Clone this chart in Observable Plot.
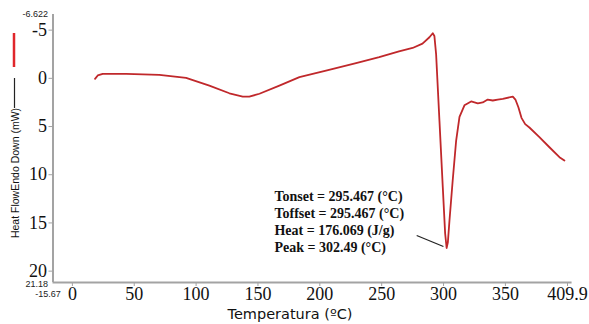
<!DOCTYPE html>
<html>
<head>
<meta charset="utf-8">
<script src="https://cdn.jsdelivr.net/npm/d3@7"></script>
<script src="https://cdn.jsdelivr.net/npm/@observablehq/plot@0.6"></script>
<style>
  html, body { margin: 0; padding: 0; background: #fff; }
  #chart svg { display: block; }
</style>
</head>
<body>
<div id="chart"></div>
<script>
// Temperature (°C) and heat flow (mW)
const temps = [18.3, 20.5, 24.5, 43.4, 70.3, 91.9, 110.7, 126.9, 137.7, 143, 151.2, 167.3, 183.5, 205, 229.3, 248, 264, 275, 283, 288.6, 291.3, 292.6, 294, 296.7, 299.4, 301.3, 302.5, 303.5, 304.8, 307.4, 310.2, 312.9, 316.9, 322.3, 327.7, 331.7, 335.7, 339.8, 343.8, 347.9, 356, 358.1, 360.5, 363, 366, 369.4, 377.5, 385.6, 393.7, 397.7];
const heat = [0.05, -0.3, -0.47, -0.47, -0.36, -0.05, 0.75, 1.55, 1.89, 1.9, 1.6, 0.75, -0.12, -0.8, -1.57, -2.2, -2.8, -3.15, -3.6, -4.26, -4.68, -4.4, -2.5, 4.4, 11.3, 16.1, 17.6, 17.0, 14.75, 10.6, 6.45, 4.0, 2.8, 2.4, 2.6, 2.5, 2.2, 2.3, 2.2, 2.13, 1.89, 2.2, 3.0, 4.1, 4.75, 5.1, 6.1, 7.15, 8.18, 8.53];

const xTicks = [0, 50, 100, 150, 200, 250, 300, 350];
const xEndTick = [409.9];
const yTicks = [-5, 0, 5, 10, 15, 20];
const xMin = -15.67, xMax = 409.9;
const yMin = -6.622, yMax = 21.18;

// Annotation: leader line endpoints and text
const leaderX = [278.3, 299.9];
const leaderY = [16.3, 17.45];
const noteX = 163.3, noteY = 14.8;
const noteLines = ["Tonset = 295.467 (°C)", "Toffset = 295.467 (°C)", "Heat = 176.069 (J/g)", "Peak = 302.49 (°C)"];

const yLabel = "Heat FlowEndo Down (mW)";
const xLabel = "Temperatura (ºC)";

const data = temps.map((t, i) => ({t, h: heat[i]}));
const axisColor = "#a3a3a3";
const serif = "'Liberation Serif', 'DejaVu Serif', serif";
const sans = "'Liberation Sans', Arial, sans-serif";

const axisText = {stroke: axisColor, fill: "#111", fontSize: 18, fontFamily: serif, tickFormat: d => String(d), label: null};

const plot = Plot.plot({
  width: 589,
  height: 324,
  marginLeft: 52.5,
  marginRight: 10,
  marginTop: 14,
  marginBottom: 42,
  style: {background: "#fff", color: "#000", overflow: "visible"},
  x: {domain: [xMin, xMax], axis: null},
  y: {domain: [yMax, yMin], axis: null},
  marks: [
    // axis lines
    Plot.ruleX([xMin], {y1: yMin, y2: yMax, stroke: axisColor, strokeWidth: 2}),
    Plot.ruleY([yMax], {x1: xMin, x2: xMax - 6, stroke: axisColor, strokeWidth: 2}),
    // y axis
    Plot.axisY({ticks: yTicks, tickSize: 4, tickPadding: 2, ...axisText}),
    // x axis
    Plot.axisX({ticks: xTicks, tickSize: 4, tickPadding: 1, ...axisText}),
    Plot.axisX({ticks: xEndTick, tickSize: 4, tickPadding: 1, dx: -12, ...axisText}),
    // small end labels
    Plot.text([yMin], {x: xMin, y: d => d, text: d => String(d), dx: -5, textAnchor: "end",
      fontSize: 9, fontFamily: sans, fill: "#222"}),
    Plot.text([yMax], {x: xMin, y: d => d, text: d => String(d), dx: -5, dy: 2, textAnchor: "end",
      fontSize: 9, fontFamily: sans, fill: "#222"}),
    Plot.text([xMin], {x: d => d, y: yMax, text: d => String(d), dx: -5, dy: 12, textAnchor: "middle",
      fontSize: 9, fontFamily: sans, fill: "#222"}),
    // curve
    Plot.line(data, {x: "t", y: "h", stroke: "#c0282b", strokeWidth: 1.8, strokeLinejoin: "round"}),
    // annotation leader
    Plot.link([0], {x1: () => leaderX[0], y1: () => leaderY[0], x2: () => leaderX[1], y2: () => leaderY[1],
      stroke: "#222", strokeWidth: 1.2}),
    Plot.text([noteLines.join("\n")], {x: noteX, y: noteY, text: d => d, textAnchor: "start",
      lineHeight: 1.2, fontSize: 14, fontWeight: "bold", fontFamily: serif, fill: "#111"})
  ]
});

const svg = d3.select(plot);
// y axis label, rotated
svg.append("text")
  .attr("transform", "translate(19,173) rotate(-90)")
  .attr("text-anchor", "middle")
  .attr("font-family", sans)
  .attr("font-size", 10.5)
  .attr("fill", "#111")
  .text(yLabel);
// legend swatches next to the label
svg.append("line").attr("x1", 14.5).attr("x2", 14.5).attr("y1", 78).attr("y2", 108)
  .attr("stroke", "#222").attr("stroke-width", 1.2);
svg.append("line").attr("x1", 14).attr("x2", 14).attr("y1", 33).attr("y2", 67)
  .attr("stroke", "#e0262b").attr("stroke-width", 2.5);
// x axis label
svg.append("text")
  .attr("x", 290).attr("y", 319)
  .attr("text-anchor", "middle")
  .attr("font-family", "'DejaVu Sans', sans-serif")
  .attr("font-size", 14.5)
  .attr("fill", "#111")
  .text(xLabel);

document.getElementById("chart").appendChild(plot);
</script>
</body>
</html>
